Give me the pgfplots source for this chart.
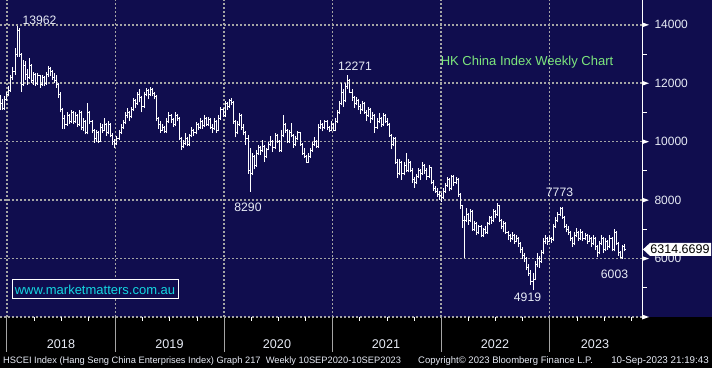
\documentclass[border=0pt]{standalone}
\usepackage{pgfplots}
\pgfplotsset{compat=1.18}
\usepackage{pgfplotstable}
\usepackage{fontspec}
\setmainfont{Liberation Sans}
\definecolor{bbnavy}{RGB}{16,13,78}
\definecolor{bbgrid}{RGB}{165,165,165}
\definecolor{bbgreen}{RGB}{125,230,125}
\definecolor{bbcyan}{RGB}{20,215,225}
\definecolor{bbtext}{RGB}{232,236,246}

\pgfplotstableread{
i o h l c
0 11500 11600 11080 11300
1 11300 11450 11100 11150
2 11150 11550 11100 11450
3 11450 11700 11400 11600
4 11600 11900 11550 11750
5 11750 12300 11700 12200
6 12200 12550 12100 12400
7 12400 13200 12300 13000
8 13000 13962 12900 13800
9 13800 13900 12900 13000
10 13000 13050 11700 11950
11 11950 12800 11900 12600
12 12600 12750 12100 12300
13 12300 12500 11950 12200
14 12200 12850 12150 12600
15 12600 12650 12000 12100
16 12100 12400 11950 12300
17 12300 12350 11900 12000
18 12000 12350 11950 12250
19 12250 12300 11850 11950
20 11950 12300 11900 12200
21 12200 12250 11900 12000
22 12000 12400 11950 12300
23 12300 12600 12200 12500
24 12500 12550 12250 12400
25 12400 12450 12100 12200
26 12200 12350 12000 12100
27 12100 12300 11850 11950
28 11950 12000 11500 11600
29 11600 11700 11000 11100
30 11100 11150 10450 10800
31 10800 10900 10450 10600
32 10600 11000 10550 10900
33 10900 10950 10600 10700
34 10700 11100 10650 11000
35 11000 11050 10600 10700
36 10700 11000 10650 10900
37 10900 10950 10500 10600
38 10600 11100 10550 11000
39 11000 11050 10400 10500
40 10500 10800 10350 10700
41 10700 10750 10250 10300
42 10300 11320 10250 11000
43 11000 11050 10600 10700
44 10700 10750 10300 10400
45 10400 10450 9950 10100
46 10100 10400 10000 10300
47 10300 10350 9950 10000
48 10000 10650 9980 10500
49 10500 10600 10300 10400
50 10400 10800 10350 10600
51 10600 10650 10200 10300
52 10300 10700 10250 10600
53 10600 10650 10150 10200
54 10200 10300 9880 10000
55 10000 10100 9780 9950
56 9950 10200 9900 10100
57 10100 10400 10050 10300
58 10300 10600 10250 10500
59 10500 10750 10450 10650
60 10650 11000 10600 10900
61 10900 11150 10800 11000
62 11000 11050 10700 10850
63 10850 11200 10800 11100
64 11100 11500 11050 11400
65 11400 11450 11150 11300
66 11300 11700 11250 11600
67 11600 11800 11350 11500
68 11500 11550 11000 11200
69 11200 11700 11150 11600
70 11600 11850 11550 11750
71 11750 11800 11450 11600
72 11600 11870 11550 11800
73 11800 11850 11550 11650
74 11650 11700 11450 11550
75 11550 11600 10700 10800
76 10800 10850 10450 10600
77 10600 10700 10300 10400
78 10400 10600 10350 10500
79 10500 10550 10300 10350
80 10350 10800 10300 10700
81 10700 11000 10650 10900
82 10900 10950 10650 10750
83 10750 10800 10500 10600
84 10600 11000 10550 10900
85 10900 10950 10700 10800
86 10800 10850 10050 10100
87 10100 10150 9710 9850
88 9850 10050 9800 9950
89 9950 10300 9900 10100
90 10100 10150 9840 9900
91 9900 10250 9850 10200
92 10200 10500 10150 10400
93 10400 10450 10200 10300
94 10300 10670 10250 10600
95 10600 10650 10400 10500
96 10500 10800 10450 10700
97 10700 10750 10450 10550
98 10550 10900 10500 10800
99 10800 10850 10550 10600
100 10600 10850 10550 10750
101 10750 10800 10450 10500
102 10500 10600 10300 10450
103 10450 10800 10400 10700
104 10700 10750 10300 10400
105 10400 10900 10350 10800
106 10800 11200 10750 11100
107 11100 11150 10850 10900
108 10900 11400 10850 11300
109 11300 11350 11100 11200
110 11200 11450 11150 11400
111 11400 11480 11250 11350
112 11350 11400 10600 10700
113 10700 10750 10150 10300
114 10300 10700 10250 10600
115 10600 10980 10550 10900
116 10900 10950 10400 10500
117 10500 10600 10220 10300
118 10300 10350 9900 10100
119 10100 10220 8900 9000
120 9000 9800 8290 8900
121 8900 9600 8850 9500
122 9500 9550 9050 9200
123 9200 9700 9150 9600
124 9600 9900 9550 9800
125 9800 9850 9550 9700
126 9700 10050 9650 9850
127 9850 9900 9300 9500
128 9500 9800 9450 9750
129 9750 10000 9700 9900
130 9900 10200 9850 10000
131 10000 10050 9650 9800
132 9800 10300 9750 10200
133 10200 10250 9950 10000
134 10000 10050 9640 9700
135 9700 10400 9650 10200
136 10200 10900 10150 10600
137 10600 10650 10300 10400
138 10400 10450 9950 10000
139 10000 10400 9950 10300
140 10300 10630 10150 10200
141 10200 10250 9800 9900
142 9900 10200 9850 10100
143 10100 10350 10050 10300
144 10300 10330 9850 9900
145 9900 9950 9550 9600
146 9600 9800 9450 9500
147 9500 9550 9270 9300
148 9300 9600 9280 9500
149 9500 9800 9450 9700
150 9700 10000 9650 9900
151 9900 10150 9850 10000
152 10000 10050 9780 9850
153 9850 10600 9800 10500
154 10500 10740 10450 10600
155 10600 10650 10350 10500
156 10500 10750 10450 10700
157 10700 10740 10400 10500
158 10500 10550 10330 10400
159 10400 10700 10350 10600
160 10600 10650 10350 10400
161 10400 10800 10350 10700
162 10700 11100 10650 11000
163 11000 11400 10950 11300
164 11300 12000 11250 11700
165 11700 11800 11200 11400
166 11400 12000 11350 11900
167 11900 12271 11800 12100
168 12100 12150 11650 11700
169 11700 11800 11400 11500
170 11500 11550 11150 11300
171 11300 11520 11250 11400
172 11400 11450 11100 11200
173 11200 11300 10950 11100
174 11100 11400 11050 11300
175 11300 11350 10950 11000
176 11000 11100 10700 10900
177 10900 11180 10850 11100
178 11100 11150 10650 10800
179 10800 11000 10750 10900
180 10900 10950 10300 10500
181 10500 10800 10450 10700
182 10700 10980 10650 10800
183 10800 10850 10500 10600
184 10600 10980 10550 10900
185 10900 10950 10650 10700
186 10700 10800 10550 10600
187 10600 10650 10150 10200
188 10200 10250 9750 9900
189 9900 10150 9850 10100
190 10100 10150 9250 9300
191 9300 9400 8750 8900
192 8900 9400 8850 9300
193 9300 9350 8700 8900
194 8900 9300 8850 9200
195 9200 9600 8950 9000
196 9000 9400 8950 9300
197 9300 9350 8950 9000
198 9000 9100 8600 8700
199 8700 8800 8410 8600
200 8600 8900 8550 8800
201 8800 9100 8750 9000
202 9000 9050 8700 8900
203 8900 9300 8850 9200
204 9200 9250 8900 9000
205 9000 9100 8700 8800
206 8800 9200 8750 9100
207 9100 9150 8550 8600
208 8600 8700 8300 8400
209 8400 8500 8250 8300
210 8300 8400 8100 8200
211 8200 8300 8000 8150
212 8150 8250 7930 8100
213 8100 8400 8050 8300
214 8300 8600 8250 8500
215 8500 8780 8450 8700
216 8700 8750 8300 8400
217 8400 8850 8350 8800
218 8800 8850 8500 8600
219 8600 8800 8550 8700
220 8700 8750 8100 8200
221 8200 8250 7700 7800
222 7800 7850 7050 7300
223 7300 7450 6020 7300
224 7300 7730 7250 7500
225 7500 7550 7150 7300
226 7300 7700 7250 7600
227 7600 7650 6950 7000
228 7000 7300 6950 7200
229 7200 7250 6800 6900
230 6900 7150 6850 7100
231 7100 7150 6750 6800
232 6800 7050 6750 7000
233 7000 7100 6850 6900
234 6900 7250 6850 7200
235 7200 7450 7150 7400
236 7400 7450 7200 7300
237 7300 7700 7250 7600
238 7600 7650 7400 7500
239 7500 7900 7450 7800
240 7800 7850 7250 7300
241 7300 7350 7000 7100
242 7100 7300 6900 7200
243 7200 7250 6850 6900
244 6900 6950 6650 6800
245 6800 6850 6550 6700
246 6700 6900 6650 6800
247 6800 6850 6500 6600
248 6600 6800 6550 6700
249 6700 6750 6400 6500
250 6500 6550 6200 6300
251 6300 6400 6000 6100
252 6100 6200 5880 6000
253 6000 6050 5600 5700
254 5700 5800 5400 5500
255 5500 5600 5100 5200
256 5200 5500 4919 5300
257 5300 5900 5250 5800
258 5800 6190 5700 6000
259 6000 6100 5680 5900
260 5900 6290 5850 6200
261 6200 6700 6150 6600
262 6600 6800 6500 6700
263 6700 6750 6460 6600
264 6600 6800 6550 6700
265 6700 6750 6530 6650
266 6650 7200 6600 7100
267 7100 7420 7050 7300
268 7300 7600 7250 7500
269 7500 7773 7450 7700
270 7700 7750 7350 7400
271 7400 7450 7050 7100
272 7100 7200 6900 7000
273 7000 7100 6800 6900
274 6900 6950 6600 6700
275 6700 6750 6390 6500
276 6500 6900 6450 6800
277 6800 7040 6750 6900
278 6900 6950 6600 6700
279 6700 7000 6650 6900
280 6900 6950 6600 6700
281 6700 6870 6650 6800
282 6800 6850 6500 6600
283 6600 6800 6550 6700
284 6700 6750 6400 6500
285 6500 6800 6450 6700
286 6700 6750 6300 6400
287 6400 6450 6050 6200
288 6200 6600 6150 6500
289 6500 6800 6450 6700
290 6700 6750 6200 6300
291 6300 6700 6250 6600
292 6600 6650 6300 6400
293 6400 6800 6350 6700
294 6700 6750 6250 6300
295 6300 7010 6250 6900
296 6900 6950 6450 6500
297 6500 6550 6100 6200
298 6200 6250 6003 6050
299 6050 6450 6000 6400
300 6400 6500 6250 6315
}\hsdata

\begin{document}
\begin{tikzpicture}
\useasboundingbox (0,-51bp) rectangle (712bp,317bp);
\fill[black] (0,-51bp) rectangle (712bp,317bp);
\fill[bbnavy] (0,0) rectangle (712bp,317bp);
\begin{axis}[
  at={(0,0)}, anchor=south west,
  scale only axis, width=642bp, height=317bp,
  xmin=-0.24, xmax=308.4, ymin=4000, ymax=14850,
  axis line style={draw=none},
  scaled x ticks=false, scaled y ticks=false,
  xtick={3.12,55.30,107.48,159.66,211.84,264.02},
  xticklabel={},
  xticklabel style={xshift=20bp},
  ytick={4000,6000,8000,10000,12000,14000},
  yticklabels={,6000,8000,10000,12000,14000},
  yticklabel pos=right,
  yticklabel style={text=bbtext, font=\fontsize{12bp}{14bp}\selectfont, anchor=west, xshift=9bp},
  tick style={draw=none},
  grid=major,
  major grid style={draw=bbgrid, line width=1.6bp, dash pattern=on 1.6bp off 2.4bp},
  clip mode=individual,
]
\addplot[white, line width=1bp, mark=none, quiver={u=0, v=\thisrow{h}-\thisrow{l}}] table[x=i, y=l] {\hsdata};
\addplot[white, line width=1bp, mark=none, quiver={u=-0.7, v=0}] table[x=i, y=o] {\hsdata};
\addplot[white, line width=1bp, mark=none, quiver={u=0.7, v=0}] table[x=i, y=c] {\hsdata};
\end{axis}
% right axis
\draw[white, line width=1bp] (642bp,0) -- (642bp,317bp);
\foreach \v in {0,2,4,6,8,10}{
  \pgfmathsetmacro\yy{\v*317/10.85}
  \fill[white] (642bp,\yy bp-2.5bp) -- (649bp,\yy bp) -- (642bp,\yy bp+2.5bp) -- cycle;
}
\foreach \v in {1,3,5,7,9}{
  \pgfmathsetmacro\yy{\v*317/10.85}
  \draw[white, line width=1bp] (642bp,\yy bp) -- (647bp,\yy bp);
}
% bottom ticks
\foreach \q in {1,...,23}{
  \pgfmathsetmacro\xx{6.99+27.145*\q}
  \draw[white, line width=1bp] (\xx bp,0) -- (\xx bp,-4bp);
}
\foreach \xx in {6.99,115.5,224.1,332.7,441.2,549.7}{
  \draw[bbgrid, line width=1bp] (\xx bp,0) -- (\xx bp,-35bp);
}
% year labels
\begin{scope}[every node/.style={text=bbtext, font=\fontsize{12.6bp}{14bp}\selectfont, inner sep=0}]
\node at (61bp,-27bp) {2018};
\node at (169.5bp,-27bp) {2019};
\node at (277bp,-27bp) {2020};
\node at (386bp,-27bp) {2021};
\node at (495bp,-27bp) {2022};
\node at (595bp,-27bp) {2023};
\end{scope}
% annotations
\begin{scope}[every node/.style={text=bbtext, font=\fontsize{12.2bp}{14bp}\selectfont, inner sep=0}]
\node at (39.5bp,297bp) {13962};
\node at (355bp,251bp) {12271};
\node at (248bp,110bp) {8290};
\node at (559.5bp,125bp) {7773};
\node at (527.5bp,20bp) {4919};
\node at (614.5bp,43bp) {6003};
\end{scope}
\node[text=bbgreen, font=\fontsize{13bp}{15bp}\selectfont, inner sep=0] at (527bp,255bp) {HK China Index Weekly Chart};
\draw[white, line width=1bp, fill=bbnavy] (12bp,18bp) rectangle (178bp,37bp);
\node[text=bbcyan, font=\fontsize{13bp}{15bp}\selectfont, inner sep=0] at (95bp,27.5bp) {www.marketmatters.com.au};
% last price box
\fill[white] (643bp,67.6bp) -- (650bp,74.1bp) -- (711bp,74.1bp) -- (711bp,61.1bp) -- (650bp,61.1bp) -- cycle;
\node[text=black, font=\fontsize{12.5bp}{14bp}\selectfont, inner sep=0] at (680bp,67.6bp) {6314.6699};
% footer
\begin{scope}[every node/.style={text=bbtext, font=\fontsize{9.3bp}{11bp}\selectfont, inner sep=0}]
\node[anchor=west] at (3bp,-44bp) {HSCEI Index (Hang Seng China Enterprises Index) Graph 217\ \ Weekly 10SEP2020-10SEP2023};
\node[anchor=west, font=\fontsize{9.5bp}{11bp}\selectfont] at (418bp,-44bp) {Copyright© 2023 Bloomberg Finance L.P.};
\node[anchor=east, font=\fontsize{9.8bp}{11bp}\selectfont] at (709bp,-44bp) {10-Sep-2023 21:19:43};
\end{scope}
\end{tikzpicture}
\end{document}
